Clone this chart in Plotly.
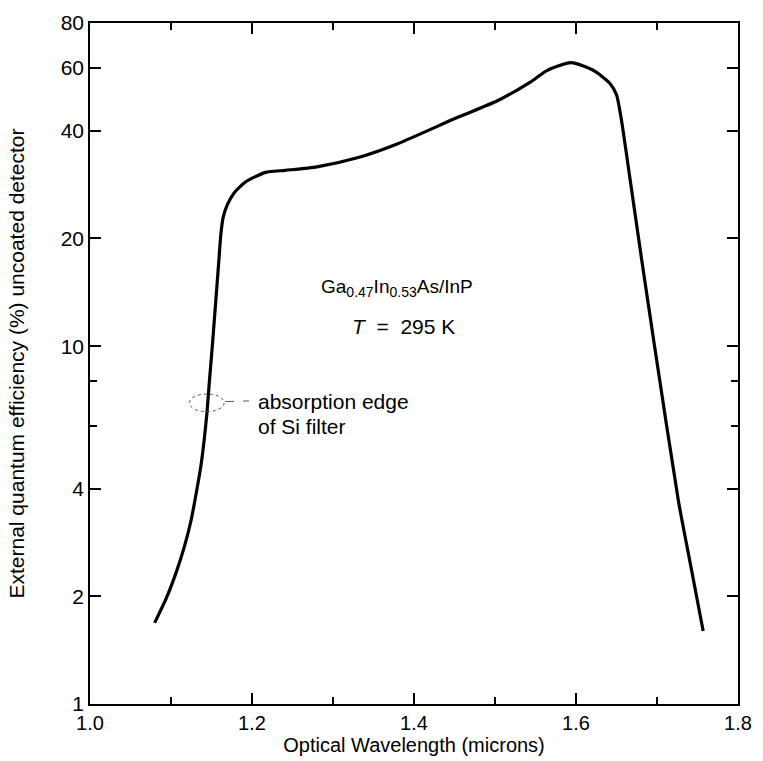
import math
import plotly.graph_objects as go

# Data (wavelength in microns, efficiency in %)
wavelength = [1.0798, 1.0941, 1.1064, 1.1166, 1.1248, 1.1309, 1.1371, 1.1411, 1.1444, 1.1472,
              1.151, 1.1587, 1.1616, 1.1644, 1.1697, 1.1779, 1.1923, 1.2168, 1.2413, 1.2802,
              1.330, 1.380, 1.454, 1.503, 1.5436, 1.564, 1.594, 1.622, 1.6417, 1.650,
              1.656, 1.666, 1.681, 1.697, 1.7264, 1.7417, 1.757]
efficiency = [1.685, 1.972, 2.333, 2.757, 3.262, 3.858, 4.658, 5.507, 6.513, 7.865,
              10.0, 16.9, 20.6, 22.9, 24.9, 26.8, 28.8, 30.6, 31.0, 31.7,
              33.6, 36.8, 43.6, 48.5, 54.7, 58.9, 62.0, 58.9, 54.3, 50.4,
              43.0, 30.1, 17.5, 10.0, 3.70, 2.43, 1.60]

x_ticks = [1.0, 1.2, 1.4, 1.6, 1.8]
x_minor = [1.1, 1.3, 1.5, 1.7]
y_ticks = [1, 2, 4, 10, 20, 40, 60, 80]
y_minor = [6, 8]

FONT = "Liberation Sans, Arial, Helvetica, sans-serif"

fig = go.Figure()
fig.add_trace(go.Scatter(
    x=wavelength, y=efficiency, mode="lines",
    line=dict(color="black", width=3.2, shape="spline", smoothing=0.6),
    hoverinfo="skip", showlegend=False,
))

fig.update_layout(
    width=763, height=761,
    margin=dict(l=90, r=21, t=11, b=53),
    paper_bgcolor="white", plot_bgcolor="white",
    font=dict(family=FONT, size=20, color="black"),
    showlegend=False,
)

fig.update_xaxes(
    range=[1.0, 1.8], tickvals=x_ticks, ticktext=[f"{v:.1f}" for v in x_ticks],
    ticks="inside", ticklen=11, tickwidth=1.5, tickcolor="black",
    showline=True, linecolor="black", linewidth=1.5, mirror="ticks",
    showgrid=False, zeroline=False,
    tickfont=dict(size=20),
    minor=dict(tickvals=x_minor, ticks="inside", ticklen=7, tickwidth=1.5, tickcolor="black", showgrid=False),
    title=dict(text="Optical Wavelength (microns)", font=dict(size=20), standoff=2),
)
fig.update_yaxes(
    type="log", range=[0, math.log10(80)],
    tickvals=y_ticks, ticktext=[str(v) for v in y_ticks],
    ticks="inside", ticklen=11, tickwidth=1.5, tickcolor="black",
    showline=True, linecolor="black", linewidth=1.5, mirror="ticks",
    showgrid=False, zeroline=False,
    tickfont=dict(size=21),
    minor=dict(tickvals=y_minor, ticks="inside", ticklen=7, tickwidth=1.5, tickcolor="black", showgrid=False),
    title=dict(text="External quantum efficiency (%) uncoated detector", font=dict(size=21), standoff=30),
)

# Material label
fig.add_annotation(x=1.3785, y=(708 - 282) / 366.2, xref="x", yref="y",
                   text="Ga<sub><span style='font-size:14px'>0.47</span></sub>In<sub><span style='font-size:14px'>0.53</span></sub>As/InP",
                   showarrow=False, font=dict(size=19), xanchor="center", yanchor="middle")
fig.add_annotation(x=1.3865, y=(708 - 322) / 366.2, xref="x", yref="y",
                   text="<i>T</i>  =  295 K", showarrow=False,
                   font=dict(size=21), xanchor="center", yanchor="middle")

# Absorption edge note
fig.add_annotation(x=1.2049, y=(708 - 398) / 366.2, xref="x", yref="y",
                   text="absorption edge", showarrow=False,
                   font=dict(size=21), xanchor="left", yanchor="middle")
fig.add_annotation(x=1.2049, y=(708 - 424) / 366.2, xref="x", yref="y",
                   text="of Si filter", showarrow=False,
                   font=dict(size=21), xanchor="left", yanchor="middle")

fig.add_shape(type="circle", xref="x", yref="y",
              x0=1.1227, x1=1.1656, y0=6.56, y1=7.35,
              line=dict(color="#555", width=1, dash="dot"))
fig.add_shape(type="line", xref="x", yref="y",
              x0=1.1668, x1=1.1963, y0=7.0, y1=7.03,
              line=dict(color="#555", width=1, dash="dash"))

fig.write_html("out.html")
